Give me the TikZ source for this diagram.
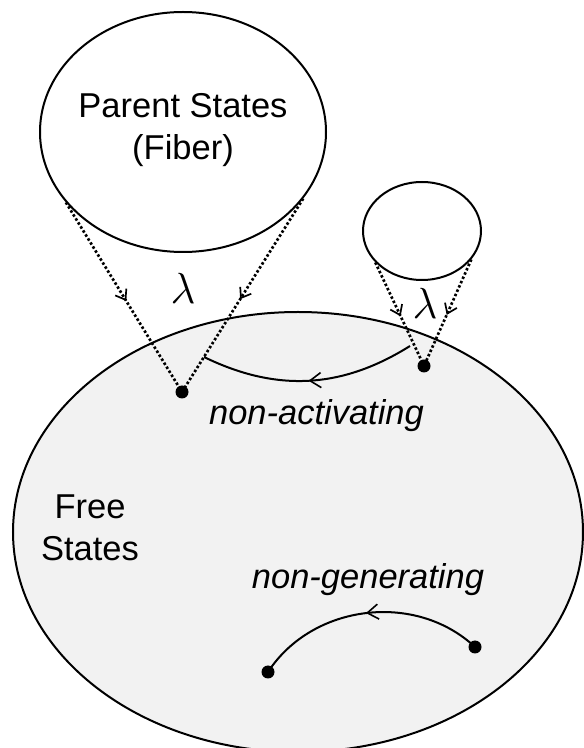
\documentclass[tikz,border=0pt]{standalone}
\usepackage{fontspec}
\setmainfont{Liberation Sans}
\usetikzlibrary{shapes.geometric,arrows.meta,decorations.markings}
\definecolor{freefill}{RGB}{242,242,242}
\begin{document}
\begin{tikzpicture}[x=1pt,y=1pt,
  region/.style={draw, line width=2pt, ellipse, inner sep=0pt},
  lbl/.style={font=\fontsize{34.5}{41.4}\selectfont, align=center, inner sep=0pt},
  lam/.style={font=\fontsize{24.88}{28}\selectfont, scale=1.75, inner sep=0pt},
  dot/.style={circle, fill=black, inner sep=0pt, minimum size=13pt},
  dotline/.style={line width=2.7pt, dash pattern=on 2.5pt off 2.2pt,
    decoration={markings, mark=at position 0.52 with {\arrow{Straight Barb[length=9pt,width=13pt,line width=1.7pt]}}},
    postaction=decorate},
  arcline/.style={line width=2pt,
    decoration={markings, mark=at position 0.5 with {\arrow{Straight Barb[length=11pt,width=15pt,line width=1.6pt]}}},
    postaction=decorate}
]
\useasboundingbox (0,0) rectangle (584,748);

% regions
\node[region, fill=freefill, minimum width=570pt, minimum height=440pt] (F) at (298,216) {};
\node[region, minimum width=286pt, minimum height=240pt] (P) at (183,616) {};
\node[region, minimum width=118pt, minimum height=98pt] (S) at (422,517) {};

% labels
\node[lbl] (ptxt) at (183,618) {Parent States\\(Fiber)};
\node[lbl] (ftxt) at (90,220) {Free\\States};
\node[lbl, font=\fontsize{34.5}{41.4}\selectfont\itshape, anchor=base] (natxt) at (316.5,323) {non-activating};
\node[lbl, font=\fontsize{34.5}{41.4}\selectfont\itshape, anchor=base] (ngtxt) at (368,159) {non-generating};
\node[lam] (l1) at (183,460) {$\lambda$};
\node[lam] (l2) at (425,445) {$\lambda$};

% dots
\node[dot] (d1) at (182,356) {};
\node[dot] (d2) at (424,382) {};
\node[dot] (d3) at (475,101) {};
\node[dot] (d4) at (268,76) {};

% free ends of the non-activating arc
\coordinate (na1) at (410,402);
\coordinate (na2) at (204,391);

% dotted transitions
\draw[dotline] (P.211) -- (d1.center);
\draw[dotline] (P.331) -- (d1.center);
\draw[dotline] (S.214) -- (d2.center);
\draw[dotline] (S.330) -- (d2.center);

% arcs
\draw[arcline] (na1) to[bend left=29] (na2);
\draw[arcline] (d3.center) to[bend right=50] (d4.center);
\end{tikzpicture}
\end{document}
